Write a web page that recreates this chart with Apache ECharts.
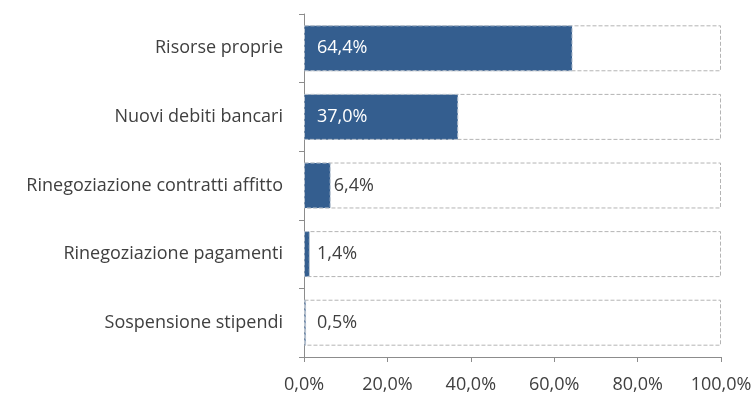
<!DOCTYPE html>
<html>
<head>
<meta charset="utf-8">
<script src="https://cdn.jsdelivr.net/npm/echarts@6/dist/echarts.min.js"></script>
<style>
  html, body { margin: 0; padding: 0; background: #ffffff; }
  #chart { width: 752px; height: 394px; }
</style>
</head>
<body>
<div id="chart"></div>
<script>
// Categories, top to bottom
const categories = [
  'Risorse proprie',
  'Nuovi debiti bancari',
  'Rinegoziazione contratti affitto',
  'Rinegoziazione pagamenti',
  'Sospensione stipendi'
];
// Share of respondents (%)
const values = [64.4, 37.0, 6.4, 1.4, 0.5];
// Full-scale frame behind each bar
const fullScale = [100, 100, 100, 100, 100];

const fontFamily = '"Open Sans", "Noto Sans", sans-serif';
const fontSize = 18;
const textColor = '#404040';
const fmt = v => v.toFixed(1).replace('.', ',') + '%';

const gridLeft = 304, gridRight = 31;
const pxPerUnit = (752 - gridLeft - gridRight) / 100;

const chart = echarts.init(document.getElementById('chart'), null, { renderer: 'canvas' });

// Long bars carry their label inside; short ones get it just past the end,
// never closer to the axis than the inside labels sit.
const dataItems = values.map(v => ({
  value: v,
  label: v > 20
    ? { position: 'insideLeft', distance: 13, color: '#ffffff' }
    : { position: 'right', distance: Math.max(3, 13 - v * pxPerUnit), color: textColor }
}));

chart.setOption({
  animation: false,
  grid: {
    left: gridLeft, right: gridRight, top: 14, bottom: 37,
    containLabel: false,
    outerBoundsMode: 'none'
  },
  xAxis: {
    type: 'value',
    min: 0,
    max: 100,
    interval: 20,
    axisLine: { show: true, lineStyle: { color: '#8c8c8c', width: 1 } },
    axisTick: { show: true, length: 5, lineStyle: { color: '#8c8c8c' } },
    splitLine: { show: false },
    axisLabel: {
      formatter: fmt,
      color: textColor,
      fontFamily: fontFamily,
      fontSize: fontSize,
      margin: 19
    }
  },
  yAxis: {
    type: 'category',
    inverse: true,
    data: categories,
    axisLine: { show: true, lineStyle: { color: '#8c8c8c', width: 1 } },
    axisTick: { show: true, length: 5, lineStyle: { color: '#8c8c8c' } },
    axisLabel: {
      color: textColor,
      fontFamily: fontFamily,
      fontSize: fontSize,
      margin: 21
    }
  },
  series: [
    {
      name: 'scala',
      type: 'bar',
      data: fullScale,
      barCategoryGap: '33%',
      silent: true,
      itemStyle: {
        color: '#ffffff',
        borderColor: '#b4b4b4',
        borderWidth: 1,
        borderType: 'dashed'
      },
      label: { show: false },
      z: 1
    },
    {
      name: 'valore',
      type: 'bar',
      data: dataItems,
      barGap: '-100%',
      barCategoryGap: '33%',
      itemStyle: {
        color: '#345e8f',
        borderColor: '#b9c3cf',
        borderWidth: 1,
        borderType: 'dashed'
      },
      label: {
        show: true,
        formatter: p => fmt(p.value),
        fontFamily: fontFamily,
        fontSize: fontSize
      },
      z: 2
    }
  ]
});
</script>
</body>
</html>
